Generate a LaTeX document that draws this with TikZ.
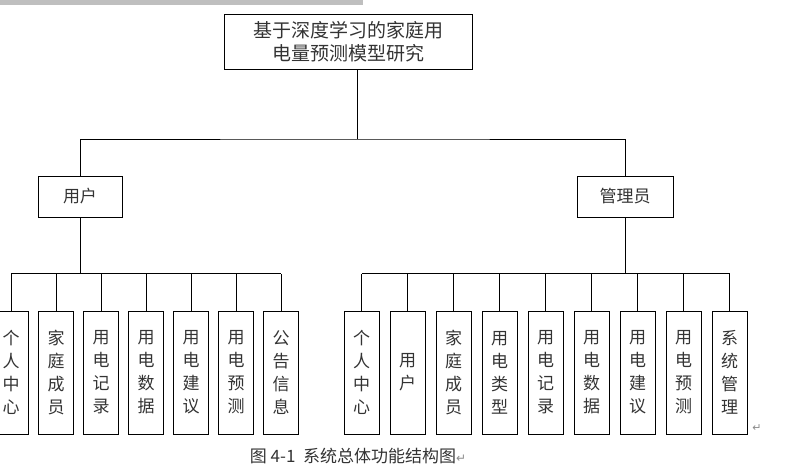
\documentclass[tikz,border=0pt]{standalone}
\usepackage{fontspec}
\usetikzlibrary{calc}
\newfontfamily\cjk{Noto Sans CJK SC}
\newfontfamily\dejavu{DejaVu Sans}
\begin{document}
\begin{tikzpicture}[x=1pt,y=-1pt,
  box/.style={draw,line width=0.9pt,inner sep=0pt,font=\cjk\fontsize{17}{19}\selectfont,text=black!80},
  leaf/.style={box,minimum width=35pt,minimum height=123pt,align=center,font=\cjk\fontsize{17}{23}\selectfont},
  conn/.style={line width=0.9pt}]
\useasboundingbox (0,0) rectangle (788,472);
\fill[black!25] (0,0) rectangle (363,5);
\node[box,minimum width=248pt,minimum height=55pt,align=center,font=\cjk\fontsize{19}{23}\selectfont] (root) at (348,41.5) {基于深度学习的家庭用\\电量预测模型研究};
\node[box,minimum width=84pt,minimum height=41pt] (u) at (80,196.5) {用户};
\node[box,minimum width=96pt,minimum height=41pt] (a) at (625,196.5) {管理员};
\coordinate (rj) at (357,139);
\draw[conn] (357,69) -- (rj);
\draw[conn] (u.north) |- (rj) -| (a.north);
% left leaves
\foreach \t [count=\i] in {个\\人\\中\\心,家\\庭\\成\\员,用\\电\\记\\录,用\\电\\数\\据,用\\电\\建\\议,用\\电\\预\\测,公\\告\\信\\息}{
  \node[leaf] (l\i) at ({11+45*(\i-1)},372.5) {\t};
  \draw[conn] (l\i.north) -- ++(0,-37);
}
\coordinate (lb) at (80,274);
\draw[conn] ($(l1.north)+(0,-37)$) -- ($(l7.north)+(0,-37)$);
\draw[conn] (u.south) -- (lb);
% right leaves
\foreach \t [count=\i] in {个\\人\\中\\心,用\\户,家\\庭\\成\\员,用\\电\\类\\型,用\\电\\记\\录,用\\电\\数\\据,用\\电\\建\\议,用\\电\\预\\测,系\\统\\管\\理}{
  \node[leaf] (r\i) at ({361.5+46*(\i-1)},372.5) {\t};
  \draw[conn] (r\i.north) -- ++(0,-37);
}
\coordinate (rb) at (625,274);
\draw[conn] ($(r1.north)+(0,-37)$) -- ($(r9.north)+(0,-37)$);
\draw[conn] (a.south) -- (rb);
\node[font=\dejavu\fontsize{11}{11}\selectfont,text=black!45] (m1) at (757,428) {↵};
\node[font=\cjk\fontsize{17}{19}\selectfont,text=black!80] (cap) at (358,456) {图 4-1\ \ 系统总体功能结构图\textcolor{black!45}{\dejavu\fontsize{12}{12}\selectfont↵}};
\end{tikzpicture}
\end{document}
